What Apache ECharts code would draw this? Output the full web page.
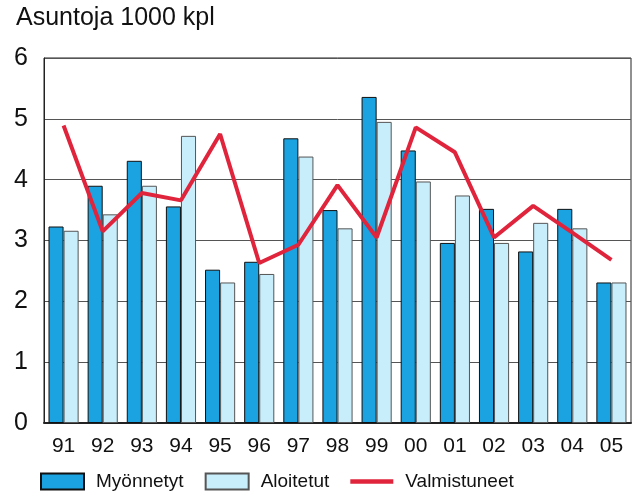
<!DOCTYPE html>
<html><head><meta charset="utf-8">
<script src="https://cdn.jsdelivr.net/npm/echarts@6/dist/echarts.min.js"></script>
<style>html,body{margin:0;padding:0;background:#fff}#c{width:640px;height:499px}</style>
</head><body><div id="c"></div>
<script>
var categories = ['91','92','93','94','95','96','97','98','99','00','01','02','03','04','05'];
var myonnetyt = [3.23,3.90,4.31,3.56,2.52,2.65,4.68,3.50,5.36,4.48,2.96,3.52,2.82,3.52,2.31];
var aloitetut = [3.16,3.43,3.90,4.72,2.31,2.45,4.38,3.20,4.95,3.97,3.74,2.96,3.29,3.20,2.31];
var valmistuneet = [4.89,3.15,3.78,3.66,4.75,2.63,2.93,3.91,3.05,4.86,4.45,3.05,3.57,3.13,2.68];
var yTicks = [0,1,2,3,4,5,6];

var font = 'Liberation Sans, Arial, sans-serif';
var chart = echarts.init(document.getElementById('c'), null, {renderer:'canvas'});
chart.setOption({
  animation:false,
  title:{text:'Asuntoja 1000 kpl', left:11, top:1, textStyle:{fontFamily:font, fontSize:25, fontWeight:'normal', color:'#111'}},
  grid:{left:44, top:58, right:9, bottom:76, show:true, borderColor:'#222', borderWidth:1, backgroundColor:'transparent'},
  legend:{bottom:3, left:35, itemWidth:43, itemHeight:16, itemGap:21,
    textStyle:{fontFamily:font, fontSize:19, color:'#111', padding:[0,0,0,7]},
    data:[{name:'Myönnetyt', icon:'rect'},{name:'Aloitetut', icon:'rect'},
      {name:'Valmistuneet', icon:'path://M0,0 L40,0 L40,4 L0,4 Z'}]},
  xAxis:{type:'category', data:categories, boundaryGap:true,
    axisLine:{lineStyle:{color:'#222', width:2}},
    axisTick:{alignWithLabel:true, length:9, lineStyle:{color:'#222', type:'dotted'}},
    axisLabel:{fontFamily:font, fontSize:21, color:'#111', margin:13}},
  yAxis:{type:'value', min:yTicks[0], max:yTicks[yTicks.length-1], interval:1,
    axisLine:{show:true, lineStyle:{color:'#222'}}, axisTick:{show:false},
    splitLine:{lineStyle:{color:'#555', width:1}},
    axisLabel:{fontFamily:font, fontSize:25, color:'#111', margin:16}},
  series:[
    {name:'Myönnetyt', type:'bar', data:myonnetyt, barGap:'0%', barCategoryGap:'23%',
      itemStyle:{color:'#1aa3e0', borderColor:'#111', borderWidth:1}},
    {name:'Aloitetut', type:'bar', data:aloitetut, barGap:'0%', barCategoryGap:'23%',
      itemStyle:{color:'#c8eefc', borderColor:'#555', borderWidth:1}},
    {name:'Valmistuneet', type:'line', data:valmistuneet, symbol:'none',
      lineStyle:{color:'#e0243c', width:4}, itemStyle:{color:'#e0243c'}}
  ]
});
</script></body></html>
